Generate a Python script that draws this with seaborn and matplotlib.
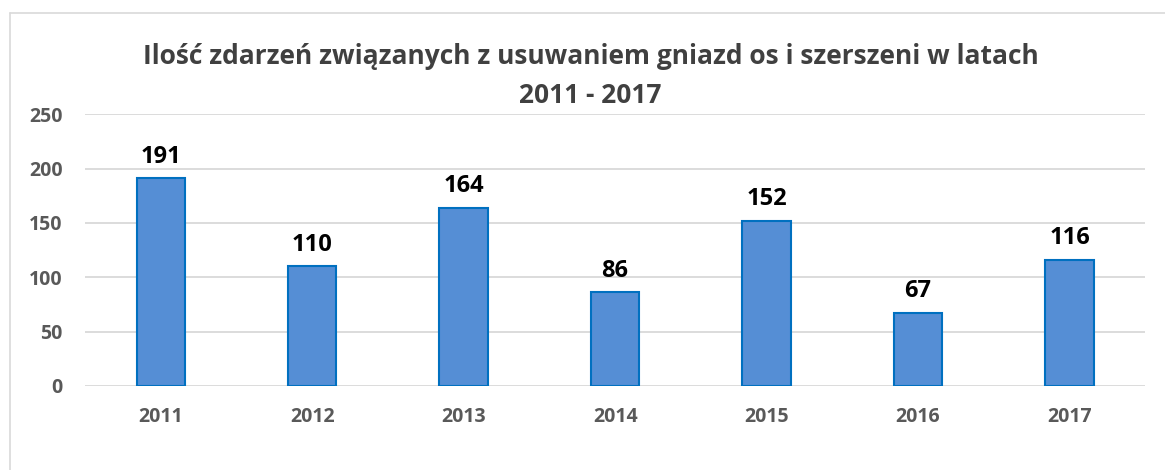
import pandas as pd
import matplotlib.pyplot as plt
import seaborn as sns
from matplotlib.lines import Line2D

years = ['2011', '2012', '2013', '2014', '2015', '2016', '2017']
counts = [191, 110, 164, 86, 152, 67, 116]
yticks = [0, 50, 100, 150, 200, 250]

df = pd.DataFrame({'Rok': years, 'Ilosc': counts})

sns.set_theme(style='white')
plt.rcParams['font.family'] = ['Open Sans', 'DejaVu Sans']

fig = plt.figure(figsize=(11.65, 4.7), dpi=100)
ax = fig.add_axes([0.073, 0.179, 0.910, 0.578])

sns.barplot(data=df, x='Rok', y='Ilosc', ax=ax, color='#558ED5',
            edgecolor='#0070C0', linewidth=1.5, width=0.32, saturation=1)

ax.set_ylim(0, 250)
ax.set_yticks(yticks)
ax.set_yticklabels([str(t) for t in yticks])
ax.set_xlim(-0.5, len(years) - 0.5)
ax.yaxis.grid(True, color='#D9D9D9', linewidth=1.3)
ax.set_axisbelow(True)
for s in ax.spines.values():
    s.set_visible(False)
ax.set_xlabel('')
ax.set_ylabel('')
ax.tick_params(axis='both', length=0, labelsize=14, labelcolor='#595959')
ax.tick_params(axis='y', pad=16)
ax.tick_params(axis='x', pad=15)
for lbl in ax.get_xticklabels() + ax.get_yticklabels():
    lbl.set_fontweight('bold')

for c in ax.containers:
    ax.bar_label(c, fmt='%d', padding=7, fontsize=17, fontweight='bold', color='black')

fig.text(0.507, 0.879, 'Ilość zdarzeń związanych z usuwaniem gniazd os i szerszeni w latach',
         ha='center', va='center', fontsize=19, fontweight='bold', color='#404040')
fig.text(0.507, 0.796, '2011 - 2017', ha='center', va='center',
         fontsize=19, fontweight='bold', color='#404040')

# chart area border (top and left visible)
fig.add_artist(Line2D([10 / 1165, 1.0], [1 - 13 / 470, 1 - 13 / 470],
                      transform=fig.transFigure, color='#D9D9D9', linewidth=1.2))
fig.add_artist(Line2D([10 / 1165, 10 / 1165], [0.0, 1 - 13 / 470],
                      transform=fig.transFigure, color='#D9D9D9', linewidth=1.2))

fig.savefig('out.png', dpi=100)
